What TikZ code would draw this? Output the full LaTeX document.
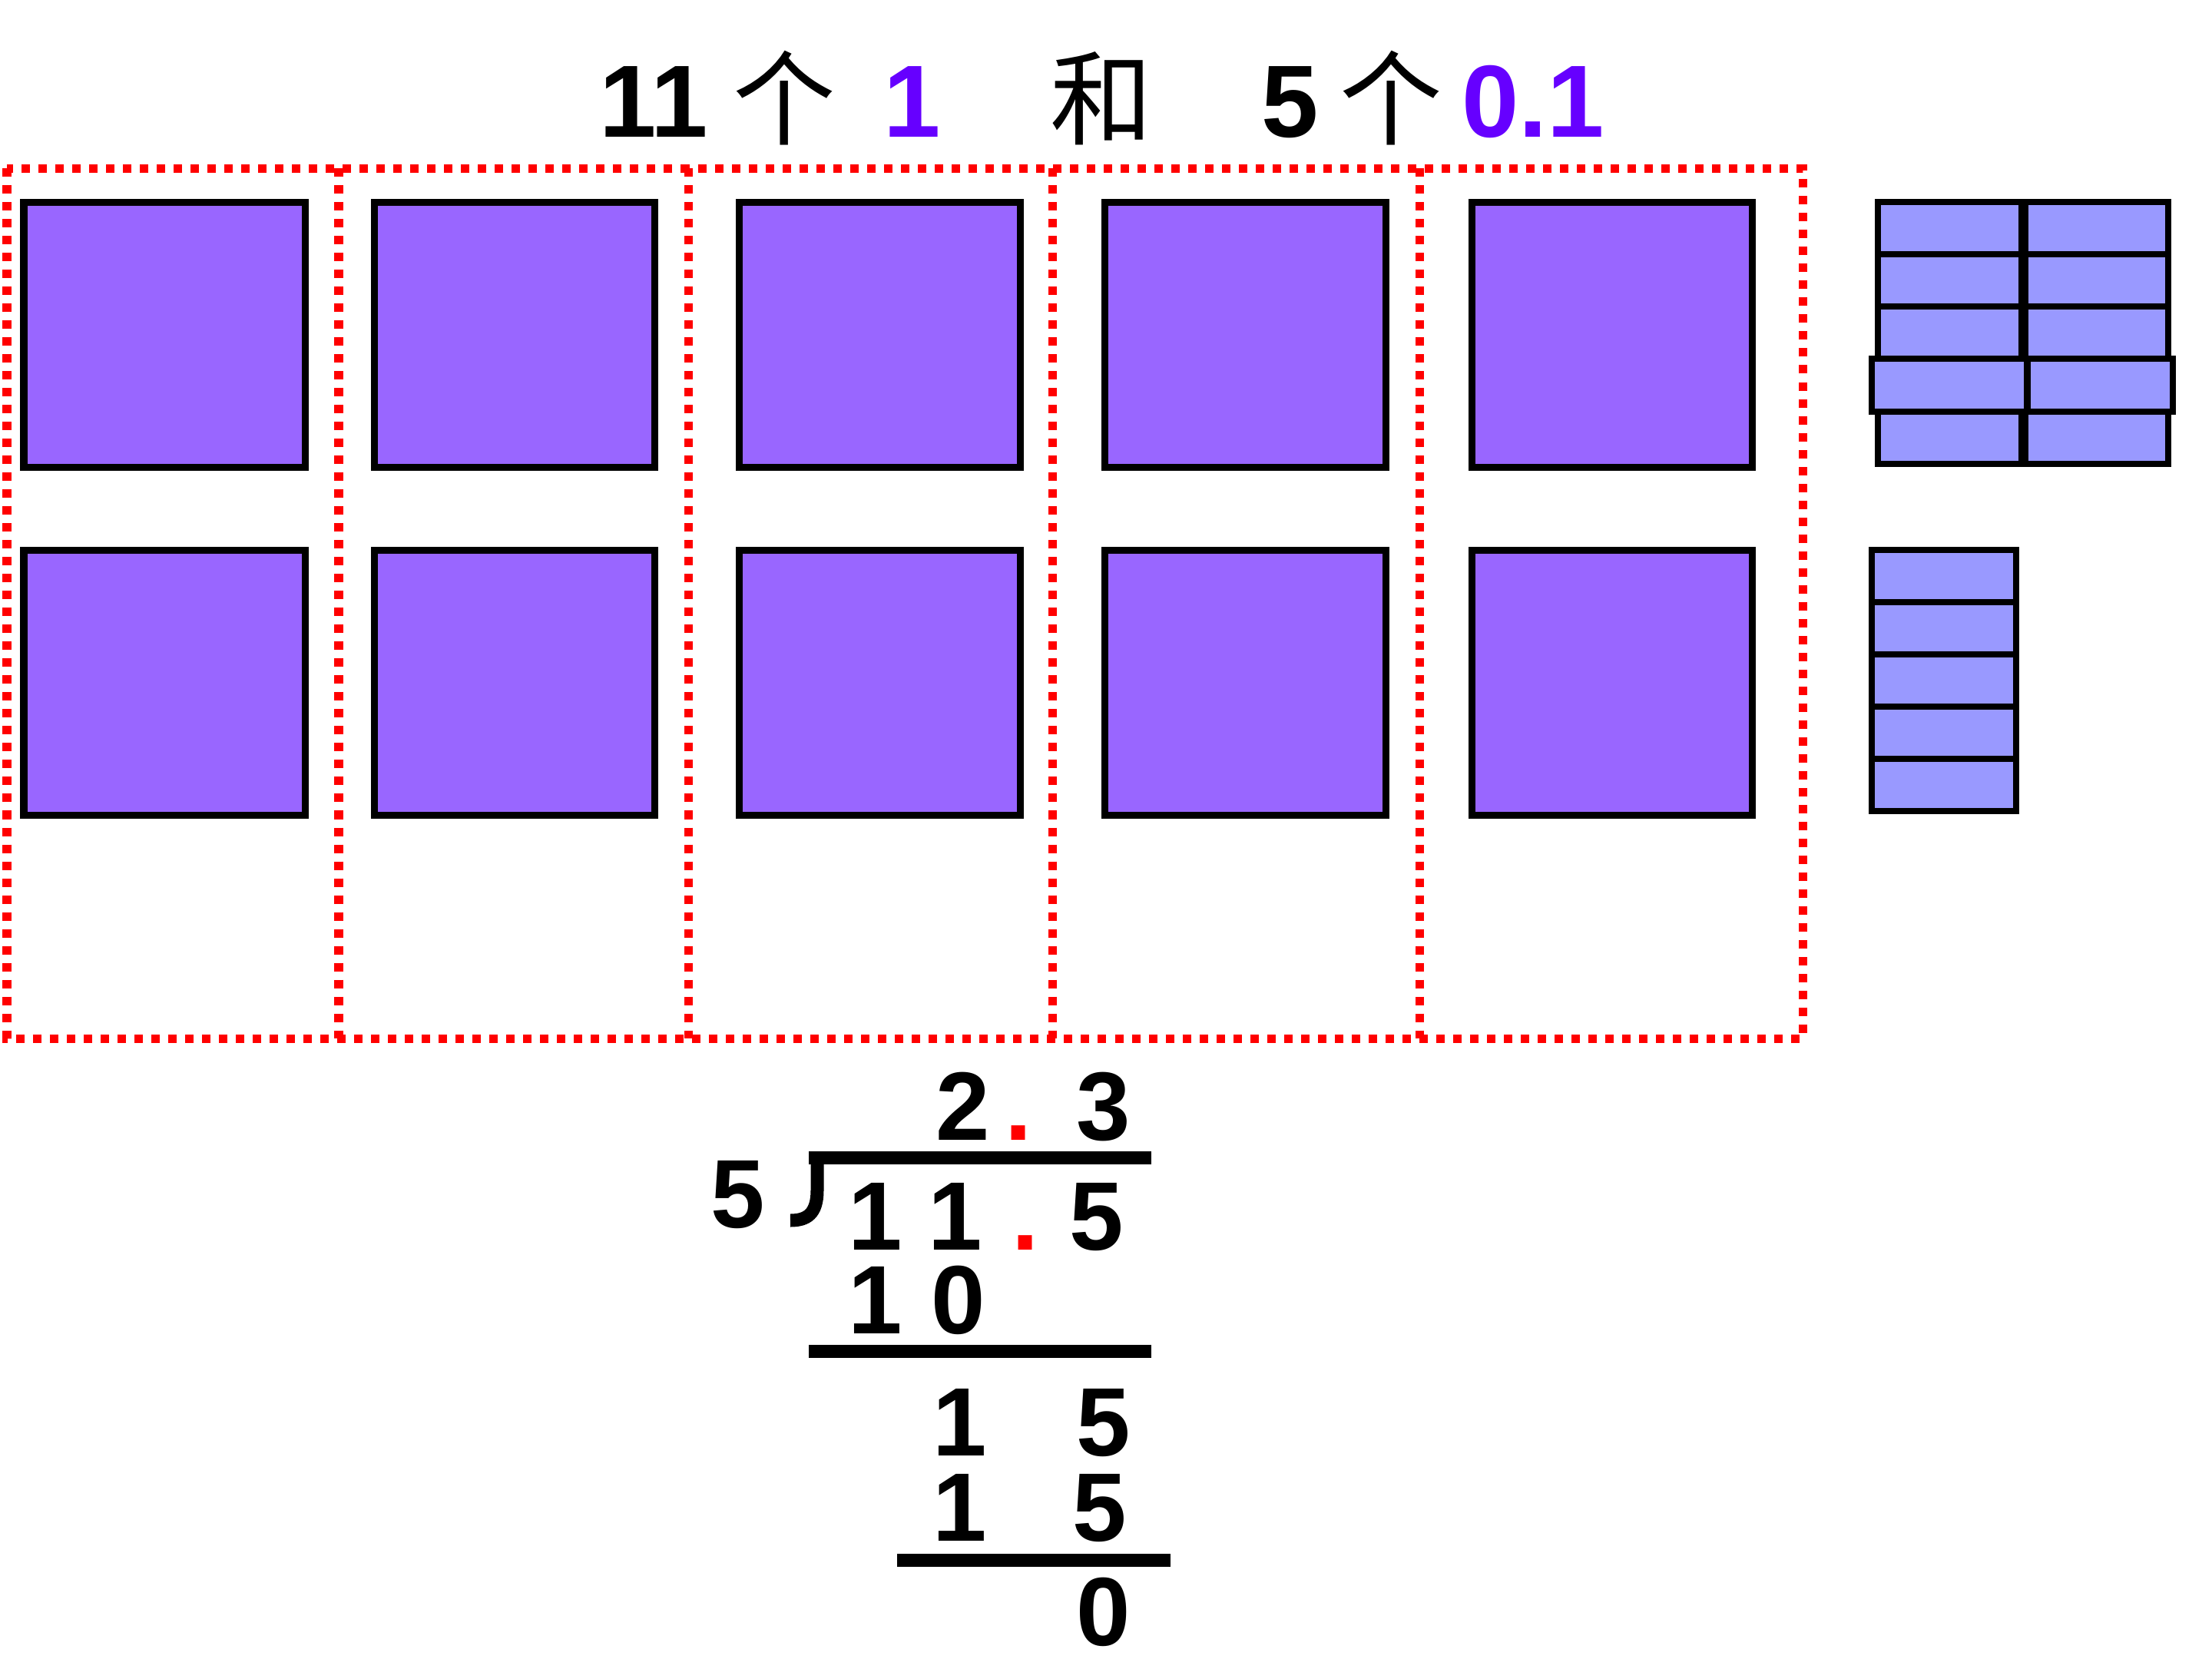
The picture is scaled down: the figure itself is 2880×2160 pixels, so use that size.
\documentclass[tikz,border=0pt]{standalone}
\usepackage{fontspec}
\setmainfont{Liberation Sans}
\newfontfamily\cjk{Noto Sans CJK SC}
\definecolor{lavender}{RGB}{153, 102, 255}
\definecolor{periwinkle}{RGB}{153, 153, 255}
\definecolor{indigoblue}{RGB}{102, 0, 255}
\definecolor{scarlet}{RGB}{255, 0, 0}

\tikzset{
  bigsq/.style={draw=black, fill=lavender, line width=0.09cm},
  tenthbar/.style={draw=black, fill=periwinkle, line width=0.08cm},
  dotbox/.style={draw=scarlet, line width=0.11cm, dash pattern=on 0.11cm off 0.11cm},
  digit/.style={anchor=base, inner sep=0pt, font=\bfseries\fontsize{36}{40}\selectfont},
  headline/.style={anchor=base, inner sep=0pt, font=\bfseries\fontsize{38}{44}\selectfont},
  divline/.style={line width=0.17cm}
}

\begin{document}
\begin{tikzpicture}[x=0.01cm, y=-0.01cm]
            \useasboundingbox                                           (0, 0) rectangle (2880, 2160);
            % title
            \node[headline]                  (t11)  at ( 851, 178) {11};
            \node[headline]                  (tge)  at (1021, 178) {\cjk\mdseries 个};
            \node[headline, text=indigoblue] (tone) at (1188, 178) {1};
            \node[headline]                  (the)  at (1434, 178) {\cjk\mdseries 和};
            \node[headline]                  (t5)   at (1680, 178) {5};
            \node[headline]                  (tgeb) at (1811, 178) {\cjk\mdseries 个};
            \node[headline, text=indigoblue] (tten) at (1996, 178) {0.1};
            % red dotted groups
            \draw[dotbox]                                              (   9, 219) rectangle (2347,1352);
            \draw[dotbox]                                              ( 441, 219) -- ( 441,1352);
            \draw[dotbox]                                              ( 896, 219) -- ( 896,1352);
            \draw[dotbox]                                              (1370, 219) -- (1370,1352);
            \draw[dotbox]                                              (1848, 219) -- (1848,1352);
            % ones
            \filldraw[bigsq]                                           (  31, 263) rectangle ( 397, 608);
            \filldraw[bigsq]                                           ( 487, 263) rectangle ( 852, 608);
            \filldraw[bigsq]                                           ( 962, 263) rectangle (1328, 608);
            \filldraw[bigsq]                                           (1438, 263) rectangle (1804, 608);
            \filldraw[bigsq]                                           (1916, 263) rectangle (2281, 608);
            \filldraw[bigsq]                                           (  31, 716) rectangle ( 397,1061);
            \filldraw[bigsq]                                           ( 487, 716) rectangle ( 852,1061);
            \filldraw[bigsq]                                           ( 962, 716) rectangle (1328,1061);
            \filldraw[bigsq]                                           (1438, 716) rectangle (1804,1061);
            \filldraw[bigsq]                                           (1916, 716) rectangle (2281,1061);
            % tenths
            \filldraw[tenthbar]                                        (2445, 263) rectangle (2632, 331);
            \filldraw[tenthbar]                                        (2637, 263) rectangle (2823, 331);
            \filldraw[tenthbar]                                        (2445, 331) rectangle (2632, 399);
            \filldraw[tenthbar]                                        (2637, 331) rectangle (2823, 399);
            \filldraw[tenthbar]                                        (2445, 399) rectangle (2632, 467);
            \filldraw[tenthbar]                                        (2637, 399) rectangle (2823, 467);
            \filldraw[tenthbar]                                        (2445, 536) rectangle (2632, 604);
            \filldraw[tenthbar]                                        (2637, 536) rectangle (2823, 604);
            \filldraw[tenthbar]                                        (2437, 467) rectangle (2639, 536);
            \filldraw[tenthbar]                                        (2640, 467) rectangle (2829, 536);
            \filldraw[tenthbar]                                        (2437, 716) rectangle (2625, 784);
            \filldraw[tenthbar]                                        (2437, 784) rectangle (2625, 852);
            \filldraw[tenthbar]                                        (2437, 852) rectangle (2625, 920);
            \filldraw[tenthbar]                                        (2437, 920) rectangle (2625, 988);
            \filldraw[tenthbar]                                        (2437, 988) rectangle (2625,1056);
            % long division
            \node[digit]                     (q2)   at (1254,1484) {2};
            \node[digit, text=scarlet]       (qdot) at (1326,1484) {.};
            \node[digit]                     (q3)   at (1437,1484) {3};
            \node[digit]                     (dvs)  at ( 961,1598) {5};
            \node[digit]                     (da)   at (1140,1627) {1};
            \node[digit]                     (db)   at (1244,1627) {1};
            \node[digit, text=scarlet]       (ddot) at (1335,1627) {.};
            \node[digit]                     (dc)   at (1428,1627) {5};
            \node[digit]                     (sa)   at (1140,1736) {1};
            \node[digit]                     (sb)   at (1248,1736) {0};
            \node[digit]                     (ra)   at (1250,1895) {1};
            \node[digit]                     (rb)   at (1437,1895) {5};
            \node[digit]                     (pa)   at (1250,2006) {1};
            \node[digit]                     (pb)   at (1432,2006) {5};
            \node[digit]                     (rem)  at (1437,2142) {0};
            \draw[divline]                                             (1053,1507) -- (1499,1507);
            \draw[divline]                                             (1064,1507) -- (1064,1550) .. controls (1064,1581) and (1050,1589) .. (1029,1589);
            \draw[divline]                                             (1053,1759) -- (1499,1759);
            \draw[divline]                                             (1168,2031) -- (1524,2031);
        \end{tikzpicture}
\end{document}
